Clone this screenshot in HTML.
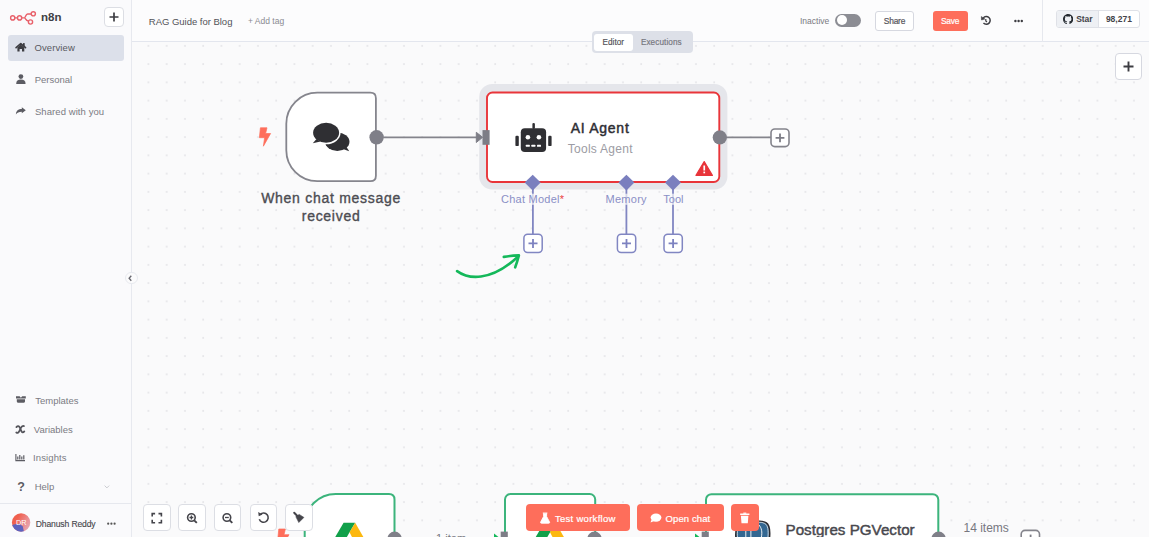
<!DOCTYPE html>
<html><head><meta charset="utf-8">
<style>
*{box-sizing:border-box;margin:0;padding:0}
html,body{width:1149px;height:537px;overflow:hidden}
body{position:relative;background:#fafafb;font-family:"Liberation Sans",sans-serif;color:#555}
.a{position:absolute;white-space:nowrap}
#cv{position:absolute;left:0;top:0}
#side{position:absolute;left:0;top:0;width:132px;height:537px;background:#fafafc;border-right:1px solid #e7e9ef}
#head{position:absolute;left:132px;top:0;width:1017px;height:42px;background:#fcfcfd;border-bottom:1px solid #e3e6ee}
.si{position:absolute;left:0;font-size:9.5px;color:#7b7b83}
.si svg{position:absolute}
.btn{position:absolute;background:#fff;border:1px solid #dcdee4;border-radius:4px}
.red{position:absolute;background:#fe6e5b;border-radius:4px;color:#fff}
</style></head><body>

<svg id="cv" width="1149" height="537" viewBox="0 0 1149 537">
  <defs>
    <pattern id="dots" x="1.4" y="8.4" width="18.25" height="18.25" patternUnits="userSpaceOnUse">
      <circle cx="1" cy="1" r="0.72" fill="#cdced5"/>
    </pattern>
  </defs>
  <rect x="0" y="0" width="1149" height="537" fill="url(#dots)"/>
  <!-- trigger node -->
  <path d="M317.3 92.7H370.4Q375.9 92.7 375.9 98.2V175.7Q375.9 181.2 370.4 181.2H317.3A31 31 0 0 1 286.3 150.2V123.7A31 31 0 0 1 317.3 92.7Z" fill="#fff" stroke="#85858d" stroke-width="1.8"/>
  <circle cx="376.6" cy="137.3" r="7.2" fill="#7f7f88"/>
  <!-- lightning -->
  <path id="bolt" d="M260.4 127.8H267L265.6 133.5H270.6L263.4 146.2L264.6 137.7H259.4Z" fill="#fe6e5b" stroke="#fe6e5b" stroke-width="0.7" stroke-linejoin="round"/>
  <!-- chat bubbles -->
  <g fill="#2f2f33">
    <ellipse cx="337.3" cy="141.8" rx="12.2" ry="9.2"/>
    <path d="M343 149L349.2 151.2L346.2 146.5Z"/>
  </g>
  <ellipse cx="326.1" cy="132.8" rx="14.5" ry="11.5" fill="#fff"/>
  <g fill="#2f2f33">
    <ellipse cx="326.1" cy="132.8" rx="13" ry="10"/>
    <path d="M316.5 139L312.8 143.3L320.5 141.6Z"/>
  </g>
  <!-- agent halo + node -->
  <rect x="479.2" y="83.9" width="248.2" height="105.7" rx="13" fill="#e5e6eb"/>
  <rect x="487" y="92.5" width="232.3" height="89.5" rx="5.5" fill="#fff" stroke="#e9353a" stroke-width="1.9"/>
  <!-- edge trigger -> agent -->
  <line x1="383" y1="137.3" x2="477" y2="137.3" stroke="#84848c" stroke-width="1.8"/>
  <path d="M476.3 132.3L482.6 137.3L476.3 142.5Z" fill="#7d7d86" stroke="#7d7d86" stroke-width="1" stroke-linejoin="round"/>
  <rect x="482.5" y="130.1" width="7.1" height="14.7" fill="#7d7d86"/>
  <!-- robot -->
  <g fill="#2f2f33">
    <rect x="520.8" y="128.2" width="25.3" height="23.7" rx="4"/>
    <rect x="532.4" y="122.9" width="2.5" height="6" rx="1.2"/>
    <rect x="515.4" y="135.7" width="3.4" height="10.4" rx="1.2"/>
    <rect x="548.2" y="135.7" width="3.4" height="10.4" rx="1.2"/>
  </g>
  <g fill="#fff">
    <circle cx="527.9" cy="137.3" r="2.3"/>
    <circle cx="538.9" cy="137.3" r="2.3"/>
    <rect x="525.8" y="144.7" width="4" height="2" rx="0.5"/>
    <rect x="531.4" y="144.7" width="4" height="2" rx="0.5"/>
    <rect x="537" y="144.7" width="4" height="2" rx="0.5"/>
  </g>
  <!-- warning -->
  <path d="M704.2 161.6L712.4 175.4H696Z" fill="#e8343a" stroke="#e8343a" stroke-width="1.2" stroke-linejoin="round"/>
  <rect x="703.4" y="165.5" width="1.7" height="5" fill="#fff"/>
  <rect x="703.4" y="171.6" width="1.7" height="1.7" fill="#fff"/>
  <!-- agent output -->
  <line x1="726" y1="137.4" x2="771" y2="137.4" stroke="#84848c" stroke-width="1.8"/>
  <circle cx="719.8" cy="137.4" r="7.1" fill="#7f7f88"/>
  <rect x="771" y="129" width="18" height="17.6" rx="3.8" fill="#fff" stroke="#84848c" stroke-width="1.6"/>
  <path d="M780 133.4V142.2M775.6 137.8H784.4" stroke="#7d7d86" stroke-width="1.8"/>
  <!-- sub connectors -->
  <g stroke="#8186c2" stroke-width="1.8">
    <path d="M532.9 186V193.8M532.9 204.8V234.2M626.4 186V193.8M626.4 204.8V234.2M673 186V193.8M673 204.8V234.2"/>
    <path d="M532.9 193.8V204.8M626.4 193.8V204.8M673 193.8V204.8" stroke-opacity="0.3"/>
  </g>
  <g fill="#7a7fbe">
    <path d="M532.7 174.7L540.7 182.6L532.7 190.5L524.7 182.6Z"/>
    <path d="M626.4 174.7L634.4 182.6L626.4 190.5L618.4 182.6Z"/>
    <path d="M673 174.7L681 182.6L673 190.5L665 182.6Z"/>
  </g>
  <g fill="#fff" stroke="#8186c2" stroke-width="1.5">
    <rect x="523.9" y="234.2" width="18.3" height="18.3" rx="3.8"/>
    <rect x="617.4" y="234.2" width="18.3" height="18.3" rx="3.8"/>
    <rect x="664" y="234.2" width="18.3" height="18.3" rx="3.8"/>
  </g>
  <g stroke="#7d82c0" stroke-width="1.8">
    <path d="M533 238.9V247.9M528.5 243.4H537.5"/>
    <path d="M626.5 238.9V247.9M622 243.4H631"/>
    <path d="M673.1 238.9V247.9M668.6 243.4H677.6"/>
  </g>
  <!-- green hand arrow -->
  <path d="M457.1 271.1C468 279 490 282 516.5 258" fill="none" stroke="#14b85a" stroke-width="2.6" stroke-linecap="round"/>
  <path d="M503.8 256.9Q511 255.6 518.9 255.4Q517.5 261 515.2 267.3" fill="none" stroke="#14b85a" stroke-width="2.6" stroke-linecap="round" stroke-linejoin="round"/>
  <!-- bottom nodes -->
  <path d="M335.7 494H389Q394.5 494 394.5 499.5V560H304.7V525A31 31 0 0 1 335.7 494Z" fill="#fff" stroke="#3cb47c" stroke-width="2"/>
  <rect x="505" y="494" width="90.2" height="80" rx="5.5" fill="#fff" stroke="#3cb47c" stroke-width="2"/>
  <rect x="706" y="494.2" width="232.3" height="80" rx="5.5" fill="#fff" stroke="#3cb47c" stroke-width="2"/>
  <circle cx="394.6" cy="538.8" r="7.2" fill="#7f7f88"/>
  <circle cx="594.5" cy="538.8" r="7.2" fill="#7f7f88"/>
  <circle cx="938.6" cy="538.8" r="7.2" fill="#7f7f88"/>
  <rect x="500.7" y="531.6" width="7.1" height="14.7" fill="#7d7d86"/>
  <rect x="701.7" y="531.6" width="7.1" height="14.7" fill="#7d7d86"/>
  <path d="M494 533.5L500.5 538.6L494 543.8Z" fill="#14b85a"/>
  <path d="M695 533.5L701.5 538.6L695 543.8Z" fill="#14b85a"/>
  <use href="#bolt" transform="translate(18.4 401.2)"/>
  <rect x="1021.2" y="530.4" width="18.3" height="18.3" rx="3.8" fill="#fff" stroke="#84848c" stroke-width="1.6"/>
  <path d="M1030.6 534.6V540" stroke="#7d7d86" stroke-width="1.8"/>
  <!-- drive icons -->
  <g>
    <path d="M343.6 522.8H355.2L346.6 537.4H335Z" fill="#11a04a"/>
    <path d="M355.2 522.8L363.6 537.4H352.2L349.5 532.3Z" fill="#fcb80f"/>
    <path d="M544.1 522.8H555.7L547.1 537.4H535.5Z" fill="#11a04a"/>
    <path d="M555.7 522.8L564.1 537.4H552.7L550 532.3Z" fill="#fcb80f"/>
  </g>
  <!-- postgres elephant -->
  <defs><path id="eleph" d="M736 538.5C735.4 532 735.6 525.5 741 522.8C745 520.8 750 521.6 753.5 522.1C757 521.3 762 520.6 766 522.7C769.6 524.7 770.2 530.5 769.4 538.5Z"/></defs>
  <g>
    <use href="#eleph" fill="#336791" stroke="#2b2b30" stroke-width="1.6"/>
    <use href="#eleph" transform="translate(752.6 531) scale(0.91) translate(-752.6 -531)" fill="none" stroke="#fff" stroke-width="0.8"/>
    <path d="M745.8 530.5V538M750.9 530.5V538M758.8 524.8C761.6 527.8 762.6 532 761.2 538" fill="none" stroke="#fff" stroke-width="0.9"/>
  </g>
</svg>

<div id="side">
  <div class="a" style="left:8px;top:35px;width:116px;height:26px;background:#dce0ea;border-radius:3px"></div>
  <svg class="a" style="left:0;top:0" width="132" height="537" viewBox="0 0 132 537">
    <!-- logo -->
    <g fill="none" stroke="#e8606a" stroke-width="1.4">
      <circle cx="12.7" cy="17.9" r="2.1"/>
      <circle cx="19.6" cy="17.9" r="2.1"/>
      <circle cx="33.3" cy="13.8" r="2.1"/>
      <circle cx="30.5" cy="22" r="2.1"/>
      <path d="M14.8 17.9H17.5M21.7 17.9H24.4M24.4 17.9C25.6 17.9 25.6 14 27.6 14H31.2M24.4 17.9C25.6 17.9 25.4 20.2 28.5 21.2"/>
    </g>
    <!-- home -->
    <path d="M16.1 47.7L20.8 43.7L25.5 47.7" fill="none" stroke="#3d3d42" stroke-width="1.7" stroke-linecap="round" stroke-linejoin="round"/><rect x="23" y="43.1" width="1.7" height="3" fill="#3d3d42"/><path d="M17.4 47.4L20.8 44.6L24.3 47.4V51.6H22V49.1H19.6V51.6H17.4Z" fill="#3d3d42"/>
    <!-- person -->
    <circle cx="20.9" cy="76.6" r="2.4" fill="#5c5c63"/>
    <path d="M16.2 84C16.2 80.8 18 79.6 20.9 79.6C23.8 79.6 25.6 80.8 25.6 84Z" fill="#5c5c63"/>
    <!-- share -->
    <path d="M25.8 110.2L21.8 107.3V109C18.3 109 16 110.8 15.9 114.6C17 112.6 19 111.7 21.8 111.7V113.2Z" fill="#5c5c63"/>
    <!-- templates -->
    <path d="M16 396.3H19.6L20.9 397.7L22.2 396.3H25.8V398.6H16Z" fill="#5c5c63"/>
    <path d="M16.8 399.2H25V401.6Q25 402.7 23.9 402.7H17.9Q16.8 402.7 16.8 401.6Z" fill="#5c5c63"/>
    <!-- variables x -->
    <path d="M16.4 427.1Q18.4 424.8 19.8 427.6L21.3 430.9Q22.5 433.6 24.3 431.4M23.9 426.1Q22.2 425.3 20.8 428L19.6 430.6Q18.2 433.7 16.3 432.4" fill="none" stroke="#55555c" stroke-width="1.8" stroke-linecap="round"/>
    <!-- insights -->
    <path d="M15.9 454.1V460.6H25" fill="none" stroke="#5c5c63" stroke-width="1.1"/>
    <path d="M17.8 456.6V459.4M19.8 455V459.4M21.8 456.6V459.4M23.8 455.3V459.4" stroke="#5c5c63" stroke-width="1.2"/>
    <!-- help ? -->
    <text x="17.3" y="491.4" font-family="Liberation Sans" font-weight="bold" font-size="12.5" fill="#5c5c63">?</text>
    <path d="M104.6 485.6L106.9 487.9L109.2 485.6" fill="none" stroke="#c4c5cb" stroke-width="0.9"/>
    <line x1="0" y1="503.5" x2="131" y2="503.5" stroke="#e6e8ee" stroke-width="1"/>
    <defs><linearGradient id="av" x1="0" y1="0" x2="0.6" y2="1"><stop offset="0" stop-color="#ee6a5c"/><stop offset="0.55" stop-color="#e07a86"/><stop offset="1" stop-color="#5a6ad0"/></linearGradient></defs>
    <clipPath id="avc"><circle cx="21.1" cy="522.5" r="9.2"/></clipPath>
    <linearGradient id="avg" x1="0" y1="0" x2="1" y2="0.6"><stop offset="0.35" stop-color="#f0604e"/><stop offset="0.75" stop-color="#e9939a"/><stop offset="1" stop-color="#e6b0ba"/></linearGradient>
    <g clip-path="url(#avc)"><rect x="10" y="512" width="23" height="22" fill="url(#avg)"/>
    <path d="M10 525.5L15 524.3L19.5 523.8L22.8 526.5L24.5 534H10Z" fill="#5e63bf"/></g>
    <g fill="#555"><circle cx="108.2" cy="523.7" r="1.1"/><circle cx="111.4" cy="523.7" r="1.1"/><circle cx="114.6" cy="523.7" r="1.1"/></g>
  </svg>
  <div class="a" style="left:41px;top:12.2px;font-size:11.5px;font-weight:bold;color:#3f3f45;line-height:1;letter-spacing:0.1px">n8n</div>
  <div class="btn" style="left:104px;top:7px;width:20px;height:20px"></div>
  <svg class="a" style="left:104px;top:7px" width="20" height="20"><path d="M10 5.5V14.5M5.5 10H14.5" stroke="#3d3d42" stroke-width="1.7"/></svg>
  <div class="si a" style="left:34.5px;top:43.1px;line-height:1;color:#5a5a61;letter-spacing:0.1px">Overview</div>
  <div class="si a" style="left:34.7px;top:75px;line-height:1">Personal</div>
  <div class="si a" style="left:34.9px;top:106.9px;line-height:1;letter-spacing:0.08px">Shared with you</div>
  <div class="si a" style="left:35.2px;top:396px;line-height:1">Templates</div>
  <div class="si a" style="left:33.8px;top:424.6px;line-height:1">Variables</div>
  <div class="si a" style="left:33.1px;top:452.8px;line-height:1;letter-spacing:0.1px">Insights</div>
  <div class="si a" style="left:34.7px;top:481.7px;line-height:1">Help</div>
  <div class="a" style="left:16.1px;top:519.3px;font-size:7.3px;color:#fff;line-height:1">DR</div>
  <div class="a" style="left:35.8px;top:519.9px;font-size:8.6px;color:#46464c;line-height:1;letter-spacing:-0.15px;-webkit-text-stroke:0.12px #46464c">Dhanush Reddy</div>
</div>

<div id="head">
  <div class="a" style="left:16.8px;top:16.7px;font-size:9.5px;color:#525258;line-height:1;letter-spacing:-0.02px">RAG Guide for Blog</div>
  <div class="a" style="left:116px;top:17.2px;font-size:8.5px;color:#8a8a92;line-height:1">+ Add tag</div>
  <div class="a" style="left:668px;top:16.6px;font-size:8.5px;color:#7a7a82;line-height:1">Inactive</div>
  <div class="a" style="left:703px;top:13.9px;width:26.1px;height:13px;border-radius:6.5px;background:#8c8d94"></div>
  <div class="a" style="left:704.6px;top:14.9px;width:10.6px;height:10.6px;border-radius:50%;background:#fff"></div>
  <div class="btn" style="left:742.5px;top:11px;width:39px;height:19.5px;border-color:#d6d8e0;border-radius:3px"></div>
  <div class="a" style="left:751.8px;top:16.6px;font-size:8.4px;color:#55555b;line-height:1;letter-spacing:-0.2px;-webkit-text-stroke:0.2px #55555b">Share</div>
  <div class="red" style="left:800.5px;top:11px;width:35px;height:19.5px;border-radius:3px"></div>
  <div class="a" style="left:808.9px;top:16.6px;font-size:8.4px;color:#fff;line-height:1;letter-spacing:-0.2px;-webkit-text-stroke:0.2px #fff">Save</div>
  <svg class="a" style="left:846px;top:13px" width="14" height="14" viewBox="0 0 14 14">
    <path d="M5.3 4.9A3.9 3.9 0 1 1 5.45 10.1" fill="none" stroke="#3d3d42" stroke-width="1.5"/>
    <path d="M3.3 3.5L3.5 7L6.9 6Z" fill="#3d3d42" stroke="#3d3d42" stroke-width="0.5" stroke-linejoin="round"/>
    <path d="M7.8 5.9V8L9 8.9" fill="none" stroke="#3d3d42" stroke-width="1.2"/>
  </svg>
  <svg class="a" style="left:881px;top:18px" width="14" height="6"><g fill="#3d3d42"><circle cx="2.4" cy="3" r="1.2"/><circle cx="5.6" cy="3" r="1.2"/><circle cx="8.8" cy="3" r="1.2"/></g></svg>
  <div class="a" style="left:910px;top:0;width:1px;height:42px;background:#e6e8ee"></div>
  <div class="a" style="left:924.2px;top:10.2px;width:83.6px;height:18.3px;border:1px solid #dfe1e7;border-radius:3px;background:#fff;overflow:hidden">
    <div class="a" style="left:0;top:0;width:42px;height:17px;background:#eef0f4;border-right:1px solid #dfe1e7"></div>
  </div>
  <svg class="a" style="left:930.8px;top:14.3px" width="10.3" height="10.3" viewBox="0 0 16 16"><path fill="#24292f" d="M8 0C3.58 0 0 3.58 0 8c0 3.54 2.29 6.53 5.47 7.59.4.07.55-.17.55-.38 0-.19-.01-.82-.01-1.49-2.01.37-2.53-.49-2.69-.94-.09-.23-.48-.94-.82-1.13-.28-.15-.68-.52-.01-.53.63-.01 1.08.58 1.23.82.72 1.21 1.87.87 2.33.66.07-.52.28-.87.51-1.07-1.78-.2-3.64-.89-3.64-3.95 0-.87.31-1.59.82-2.15-.08-.2-.36-1.02.08-2.12 0 0 .67-.21 2.2.82.64-.18 1.32-.27 2-.27.68 0 1.36.09 2 .27 1.53-1.04 2.2-.82 2.2-.82.44 1.1.16 1.92.08 2.12.51.56.82 1.27.82 2.15 0 3.07-1.87 3.75-3.65 3.95.29.25.54.73.54 1.48 0 1.07-.01 1.93-.01 2.2 0 .21.15.46.55.38A8.013 8.013 0 0016 8c0-4.42-3.58-8-8-8z"/></svg>
  <div class="a" style="left:944.3px;top:15.1px;font-size:8.5px;font-weight:bold;color:#444449;line-height:1;letter-spacing:-0.1px">Star</div>
  <div class="a" style="left:973.9px;top:15.1px;font-size:8.5px;font-weight:bold;color:#444449;line-height:1;letter-spacing:0px">98,271</div>
</div>

<div class="a" style="left:260.6px;top:190.2px;width:141px;text-align:center;font-size:14px;color:#4c4c52;line-height:17.7px;letter-spacing:0.72px;white-space:normal;-webkit-text-stroke:0.35px #4c4c52">When chat message received</div>
<div class="a" style="left:570.8px;top:121.2px;font-size:14px;color:#2d2d33;line-height:1;letter-spacing:0.72px;-webkit-text-stroke:0.45px #2d2d33">AI Agent</div>
<div class="a" style="left:567.7px;top:142.5px;font-size:12px;color:#9c9ca4;line-height:1;letter-spacing:0.28px">Tools Agent</div>
<div class="a" style="left:501px;top:193.9px;font-size:11px;color:#8a8fc6;line-height:1;letter-spacing:0.25px">Chat Model<span style="color:#ea3f3f">*</span></div>
<div class="a" style="left:605.5px;top:193.9px;font-size:11px;color:#8a8fc6;line-height:1;letter-spacing:0.27px">Memory</div>
<div class="a" style="left:663.3px;top:193.9px;font-size:11px;color:#8a8fc6;line-height:1">Tool</div>
<div class="a" style="left:785.5px;top:521.5px;font-size:15.2px;color:#4a4a50;line-height:1;-webkit-text-stroke:0.45px #45454b">Postgres PGVector</div>
<div class="a" style="left:963.5px;top:521.9px;font-size:12px;color:#77777f;line-height:1">14 items</div>
<div class="a" style="left:436px;top:533.4px;font-size:11.1px;color:#77777f;line-height:1">1 item</div>
<!-- top-right + -->
<div class="btn" style="left:1114.5px;top:53.3px;width:27px;height:27px;border-color:#d6d8e0"></div>
<svg class="a" style="left:1114.5px;top:53.3px" width="27" height="27"><path d="M13.5 8.5V18.5M8.5 13.5H18.5" stroke="#3d3d42" stroke-width="1.9"/></svg>
<!-- editor/executions -->
<div class="a" style="left:592.2px;top:31.2px;width:100.7px;height:21.5px;background:#dde0e8;border-radius:4px"></div>
<div class="a" style="left:594.1px;top:33.5px;width:38.9px;height:17.5px;background:#fff;border-radius:3px"></div>
<div class="a" style="left:602.6px;top:38.9px;font-size:8.2px;color:#4f4f55;line-height:1;-webkit-text-stroke:0.15px #4f4f55">Editor</div>
<div class="a" style="left:640.9px;top:38.9px;font-size:8.2px;color:#74747c;line-height:1;letter-spacing:0.08px;-webkit-text-stroke:0.15px #74747c">Executions</div>
<!-- collapse -->
<div class="a" style="left:125.4px;top:271.6px;width:12.6px;height:12.6px;border-radius:50%;background:#fbfbfc;border:1px solid #e8eaef"></div>
<svg class="a" style="left:125.4px;top:271.6px" width="13" height="13"><path d="M6.3 3.7L4.1 6.2L6.3 8.7" fill="none" stroke="#66666e" stroke-width="1.3"/></svg>
<!-- bottom controls -->
<div class="btn" style="left:143px;top:504px;width:27.5px;height:27.3px"></div>
<div class="btn" style="left:178.3px;top:504px;width:27.5px;height:27.3px"></div>
<div class="btn" style="left:213.6px;top:504px;width:27.5px;height:27.3px"></div>
<div class="btn" style="left:249.9px;top:504px;width:27.5px;height:27.3px"></div>
<div class="btn" style="left:285.2px;top:504px;width:27.5px;height:27.3px"></div>
<svg class="a" style="left:0;top:0" width="1149" height="537">
  <g fill="none" stroke="#45454b" stroke-width="1.6">
    <path d="M152.2 516.5V513.6H155.1M158.5 513.6H161.4V516.5M161.4 519.8V522.7H158.5M155.1 522.7H152.2V519.8"/>
    <circle cx="191.4" cy="517.5" r="3.8"/><path d="M194.2 520.3L196.8 522.9" stroke-width="1.9"/><path d="M191.4 515.6V519.4M189.5 517.5H193.3" stroke-width="1.3"/>
    <circle cx="226.9" cy="517.5" r="3.8"/><path d="M229.7 520.3L232.3 522.9" stroke-width="1.9"/><path d="M225 517.5H228.8" stroke-width="1.3"/>
    <path d="M260.2 514.5A4.6 4.6 0 1 1 259.3 519.2"/>
  </g>
  <path d="M258.2 512L258.7 516.3L262.6 514.6Z" fill="#45454b"/>
  <path d="M294.2 512.8L297.4 516" stroke="#45454b" stroke-width="2" stroke-linecap="round"/><path d="M295.8 516.6L299.2 514.4L303.9 517.4L298.8 522.5Z" fill="#45454b" stroke="#45454b" stroke-width="0.6" stroke-linejoin="round"/>
</svg>
<!-- red buttons -->
<div class="red" style="left:525.8px;top:504.2px;width:104.4px;height:26.9px"></div>
<div class="a" style="left:555px;top:513.5px;font-size:9.5px;color:#fff;line-height:1;letter-spacing:0.28px;-webkit-text-stroke:0.2px #fff">Test workflow</div>
<div class="red" style="left:637.1px;top:504.3px;width:87.3px;height:26.8px"></div>
<div class="a" style="left:665.6px;top:513.5px;font-size:9.5px;color:#fff;line-height:1;letter-spacing:0.1px;-webkit-text-stroke:0.2px #fff">Open chat</div>
<div class="red" style="left:731px;top:504.3px;width:27.8px;height:26.8px"></div>
<svg class="a" style="left:0;top:0" width="1149" height="537">
  <path d="M542.8 513H547.4M543.6 513.2V516.5L540.6 522.2Q540.4 523.2 541.4 523.2H548.8Q549.8 523.2 549.6 522.2L546.6 516.5V513.2" fill="#fff" stroke="#fff" stroke-width="0.9" stroke-linejoin="round"/>
  <ellipse cx="656" cy="517.6" rx="5.4" ry="4.1" fill="#fff"/>
  <path d="M651.5 519.8L650.5 522.6L654.2 521Z" fill="#fff"/>
  <rect x="740.1" y="513.4" width="9.4" height="1.6" rx="0.4" fill="#fff"/>
  <rect x="743.3" y="512.6" width="3" height="1.2" fill="#fff"/>
  <path d="M740.9 515.7H748.4L747.8 523.3H741.5Z" fill="#fff"/>
</svg>

</body></html>
